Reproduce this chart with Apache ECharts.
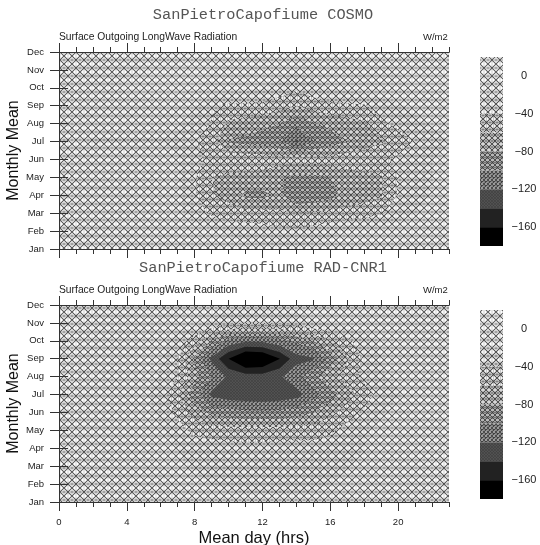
<!DOCTYPE html>
<html>
<head>
<meta charset="utf-8">
<style>html,body{margin:0;padding:0;background:#fff}#main{width:540px;height:545px}</style>
<script src="https://cdn.jsdelivr.net/npm/echarts@6/dist/echarts.min.js"></script>
</head>
<body>
<div id="main"></div>
<script>
var months = ["Jan","Feb","Mar","Apr","May","Jun","Jul","Aug","Sep","Oct","Nov","Dec"];
var levels = [20,0,-20,-40,-60,-80,-100,-120,-140,-160];
var barMin = -180;
var barLabels = [0,-40,-80,-120,-160];
var hourLabels = [0,4,8,12,16,20];

// one row per month, one value per hour (h0..h23)
var cosmoJan = [-6,-6,-6,-6,-6,-7,-7,-8,-8,-10,-12,-14,-16,-16,-16,-14,-12,-10,-8,-7,-6,-6,-6,-6];
var cosmoFeb = [-8,-8,-8,-8,-8,-8,-8,-9,-12,-16,-22,-26,-30,-35,-36,-32,-26,-18,-12,-10,-8,-8,-8,-8];
var cosmoMar = [-10,-10,-10,-10,-11,-11,-12,-14,-30,-44,-52,-54,-54,-56,-60,-58,-54,-52,-50,-42,-30,-20,-14,-12];
var cosmoApr = [-14,-14,-14,-14,-14,-14,-14,-16,-38,-58,-66,-84,-85,-76,-98,-96,-88,-72,-68,-62,-38,-26,-18,-14];
var cosmoMay = [-16,-16,-16,-15,-15,-15,-16,-18,-38,-60,-64,-66,-68,-78,-85,-85,-80,-70,-66,-62,-38,-26,-20,-16];
var cosmoJun = [-16,-16,-14,-10,2,-4,-12,-18,-36,-44,-46,-47,-48,-50,-52,-52,-50,-48,-46,-44,-36,-26,-20,-16];
var cosmoJul = [-16,-19,-21,-21,-21,-21,-21,-22,-38,-50,-82,-86,-90,-97,-124,-101,-90,-81,-70,-63,-52,-38,-28,-20];
var cosmoAug = [-15,-15,-15,-15,-15,-15,-15,-18,-28,-42,-64,-68,-74,-80,-95,-82,-74,-68,-64,-44,-34,-24,-18,-15];
var cosmoSep = [-10,-10,-10,-10,-10,-10,-10,-11,-16,-36,-44,-44,-46,-52,-60,-52,-46,-44,-42,-30,-22,-16,-12,-10];
var cosmoOct = [-8,-7,-6,-6,4,5,5,4,3,-6,-10,-14,-18,-26,-36,-26,-18,-14,-10,-8,-4,2,2,0];
var cosmoNov = [-6,-6,-6,-5,-2,2,4,6,8,2,-4,-8,-12,-14,-16,-14,-10,-8,-6,-2,1,2,2,0];
var cosmoDec = [-8,-8,-8,-8,-8,-8,-8,-8,-8,-9,-10,-11,-12,-12,-12,-12,-11,-10,-9,-8,-8,-8,-8,-8];
var cosmoGrid = [cosmoJan,cosmoFeb,cosmoMar,cosmoApr,cosmoMay,cosmoJun,cosmoJul,cosmoAug,cosmoSep,cosmoOct,cosmoNov,cosmoDec];

var radJan = [-4,-4,-4,-4,-4,-4,-4,-5,-6,-8,-10,-14,-14,-14,-14,-14,-10,-7,-5,-4,-4,-4,-4,-4];
var radFeb = [-5,-5,-5,-5,-5,-5,-6,-7,-10,-20,-24,-26,-26,-26,-26,-24,-20,-12,-7,-5,-5,-5,-5,-5];
var radMar = [-6,-6,-6,-6,-6,-6,-8,-14,-24,-28,-30,-31,-31,-31,-30,-29,-26,-21,-14,-8,-6,-6,-6,-6];
var radApr = [-6,-6,-6,-6,-6,-7,-10,-20,-26,-30,-32,-33,-33,-32,-32,-32,-30,-26,-20,-12,-7,-6,-6,-6];
var radMay = [-6,-6,-6,-6,-6,-8,-18,-32,-46,-50,-52,-52,-52,-52,-50,-50,-44,-32,-22,-14,-8,-6,-6,-6];
var radJun = [-6,-6,-6,-6,-6,-12,-25,-45,-68,-85,-92,-95,-96,-95,-90,-80,-66,-50,-36,-22,-12,-7,-6,-6];
var radJul = [-6,-6,-6,-6,-6,-15,-30,-58,-92,-125,-132,-134,-136,-133,-128,-108,-88,-70,-50,-32,-22,-10,-6,-6];
var radAug = [-6,-6,-6,-6,-6,-12,-22,-40,-72,-100,-124,-130,-131,-123,-105,-85,-68,-50,-34,-22,-12,-7,-6,-6];
var radSep = [-6,-6,-6,-6,-6,-8,-18,-40,-85,-125,-160,-190,-185,-160.5,-128,-122,-92,-62,-36,-20,-10,-6,-6,-6];
var radOct = [-6,-6,-6,-6,-6,-10,-14,-28,-50,-80,-106,-116,-115,-106,-96,-80,-62,-44,-28,-16,-8,-6,-6,-6];
var radNov = [-5,-5,-5,-5,-5,-5,-6,-8,-14,-24,-34,-40,-40,-36,-30,-22,-18,-10,-7,-5,-5,-5,-5,-5];
var radDec = [-4,-4,-4,-4,-4,-4,-5,-6,-8,-10,-12,-14,-14,-13,-12,-11,-9,-7,-5,-4,-4,-4,-4,-4];
var radGrid = [radJan,radFeb,radMar,radApr,radMay,radJun,radJul,radAug,radSep,radOct,radNov,radDec];

function hatch(step, ink, dot, bg) {
  var c = document.createElement("canvas");
  c.width = c.height = step;
  var g = c.getContext("2d");
  var q = step / 2;
  g.fillStyle = bg;
  g.fillRect(0, 0, step, step);
  // every other hole is grey
  g.fillStyle = dot;
  g.beginPath();
  g.moveTo(0, q / 2); g.lineTo(q / 2, q); g.lineTo(0, q + q / 2); g.closePath();
  g.moveTo(step, q / 2); g.lineTo(step - q / 2, q); g.lineTo(step, q + q / 2); g.closePath();
  g.fill();
  g.strokeStyle = ink;
  g.lineWidth = 1.05;
  g.beginPath();
  g.moveTo(-1, -1); g.lineTo(step + 1, step + 1);
  g.moveTo(step + 1, -1); g.lineTo(-1, step + 1);
  g.stroke();
  // thin square mesh through the crossings
  g.strokeStyle = "rgba(60,60,60,0.25)";
  g.lineWidth = 1;
  g.beginPath();
  g.moveTo(0, q); g.lineTo(step, q);
  g.moveTo(q, 0); g.lineTo(q, step);
  g.stroke();
  return c;
}

// fill of the band just below each level
var fills = [
  { image: hatch(8, "#5c5c5c", "#bbb", "#fff"), repeat: "repeat" },
  { image: hatch(8, "#555", "#b0b0b0", "#fff"), repeat: "repeat" },
  { image: hatch(8, "#4a4a4a", "#a0a0a0", "#fafafa"), repeat: "repeat" },
  { image: hatch(7, "#484848", "#999", "#f4f4f4"), repeat: "repeat" },
  { image: hatch(6, "#484848", "#8c8c8c", "#eee"), repeat: "repeat" },
  { image: hatch(5, "#444", "#808080", "#e0e0e0"), repeat: "repeat" },
  { image: hatch(4, "#444", "#777", "#ccc"), repeat: "repeat" },
  { image: hatch(3, "#444", "#555", "#6e6e6e"), repeat: "repeat" },
  "#222",
  "#000"
];

// part of one grid cell where the value is below the level
function clipCell(pts, level) {
  var out = [];
  for (var i = 0; i < pts.length; i++) {
    var a = pts[i], b = pts[(i + 1) % pts.length];
    var ina = a[2] < level, inb = b[2] < level;
    if (ina) out.push(a);
    if (ina !== inb) {
      var t = (level - a[2]) / (b[2] - a[2]);
      out.push([a[0] + (b[0] - a[0]) * t, a[1] + (b[1] - a[1]) * t, level]);
    }
  }
  return out;
}

function bandRenderer(grid) {
  return function (params, api) {
    var level = levels[api.value(0)];
    var path = "";
    var x0 = Infinity, y0 = Infinity, x1 = -Infinity, y1 = -Infinity;
    for (var m = 0; m < grid.length - 1; m++) {
      for (var h = 0; h < grid[m].length - 1; h++) {
        var poly = clipCell([
          [h, m, grid[m][h]],
          [h + 1, m, grid[m][h + 1]],
          [h + 1, m + 1, grid[m + 1][h + 1]],
          [h, m + 1, grid[m + 1][h]]
        ], level);
        for (var i = 0; i < poly.length; i++) {
          var p = api.coord([poly[i][0], poly[i][1]]);
          path += (i ? "L" : "M") + p[0].toFixed(2) + " " + p[1].toFixed(2);
          x0 = Math.min(x0, p[0]); x1 = Math.max(x1, p[0]);
          y0 = Math.min(y0, p[1]); y1 = Math.max(y1, p[1]);
        }
        if (poly.length) path += "Z";
      }
    }
    if (!path) return null;
    return {
      type: "path",
      shape: { pathData: path, x: x0, y: y0, width: x1 - x0, height: y1 - y0 },
      style: { fill: fills[api.value(0)] }
    };
  };
}

function renderBarBlock(params, api) {
  var i = api.value(0);
  var next = i + 1 < levels.length ? levels[i + 1] : barMin;
  var a = api.coord([0, levels[i]]);
  var b = api.coord([1, next]);
  return {
    type: "rect",
    shape: { x: a[0], y: a[1], width: b[0] - a[0], height: b[1] - a[1] },
    style: { fill: fills[i] }
  };
}

var lineStyle = { color: "#333", width: 1 };
var tickFont = { fontFamily: "Liberation Sans", fontSize: 9.5, color: "#222" };

function xAxes(gridIndex, withLabels) {
  function one(position, major, labels) {
    var ax = {
      type: "value", gridIndex: gridIndex, position: position, min: 0, max: 23, z: 5,
      splitLine: { show: false },
      axisLine: { lineStyle: lineStyle },
      axisLabel: { show: false },
      axisTick: { show: true, lineStyle: lineStyle, length: major ? 9 : 5 }
    };
    if (major) {
      ax.axisTick.customValues = hourLabels;
      if (labels) {
        ax.axisLabel = Object.assign({ show: true, customValues: hourLabels, margin: 15 }, tickFont);
        ax.name = "Mean day (hrs)";
        ax.nameLocation = "middle";
        ax.nameGap = 28;
        ax.nameMoveOverlap = false;
        ax.nameTextStyle = { fontFamily: "Liberation Sans", fontSize: 16.5, color: "#111" };
      }
    } else {
      ax.interval = 1;
    }
    return ax;
  }
  return [one("bottom", true, withLabels), one("bottom", false), one("top", true), one("top", false)];
}

function yAxes(gridIndex) {
  function one(position, labels) {
    return {
      type: "value", gridIndex: gridIndex, position: position, min: 0, max: 11, interval: 1, z: 5,
      splitLine: { show: false },
      axisLine: { lineStyle: lineStyle },
      axisTick: { lineStyle: lineStyle, length: 9 },
      axisLabel: labels ? Object.assign({ margin: 15, formatter: function (v) { return months[v]; } }, tickFont) : { show: false },
      name: labels ? "Monthly Mean" : "",
      nameLocation: "middle",
      nameGap: 37,
      nameMoveOverlap: false,
      nameTextStyle: { fontFamily: "Liberation Sans", fontSize: 16, color: "#111" }
    };
  }
  return [one("left", true), one("right", false)];
}

function barAxes(gridIndex) {
  return {
    x: {
      type: "value", gridIndex: gridIndex, min: 0, max: 1, show: false
    },
    y: {
      type: "value", gridIndex: gridIndex, min: barMin, max: levels[0], position: "right",
      splitLine: { show: false },
      axisLine: { show: false },
      axisTick: { show: false },
      axisLabel: {
        customValues: barLabels, margin: 21, align: "center",
        fontFamily: "Liberation Sans", fontSize: 11, color: "#222",
        formatter: function (v) { return String(v).replace("-", "\u2212"); }
      }
    }
  };
}

function titleBlock(main, mainTop, subTop) {
  return [
    { text: main, left: 263, top: mainTop, padding: 0, textAlign: "center",
      textStyle: { fontFamily: "Liberation Mono", fontSize: 15.3, fontWeight: "normal", color: "#555" } },
    { text: "Surface Outgoing LongWave Radiation", left: 59, top: subTop, padding: 0,
      textStyle: { fontFamily: "Liberation Sans", fontSize: 10.3, fontWeight: "normal", color: "#222" } },
    { text: "W/m2", left: 423, top: subTop, padding: 0,
      textStyle: { fontFamily: "Liberation Sans", fontSize: 9.5, fontWeight: "normal", color: "#222" } }
  ];
}

var levelIndex = levels.map(function (l, i) { return [i]; });
var chart = echarts.init(document.getElementById("main"), null, { renderer: "canvas" });

var bar1 = barAxes(2), bar2 = barAxes(3);
var option = {
  animation: false,
  title: titleBlock("SanPietroCapofiume COSMO", 7, 32).concat(titleBlock("SanPietroCapofiume RAD-CNR1", 260, 285)),
  grid: [
    { left: 59, top: 52, width: 390, height: 197, outerBoundsMode: "none" },
    { left: 59, top: 305, width: 390, height: 197, outerBoundsMode: "none" },
    { left: 480, top: 57, width: 23, height: 189, outerBoundsMode: "none" },
    { left: 480, top: 310, width: 23, height: 189, outerBoundsMode: "none" }
  ],
  xAxis: xAxes(0, false).concat(xAxes(1, true), [bar1.x, bar2.x]),
  yAxis: yAxes(0).concat(yAxes(1), [bar1.y, bar2.y]),
  series: [
    { type: "custom", xAxisIndex: 0, yAxisIndex: 0, data: levelIndex, silent: true, renderItem: bandRenderer(cosmoGrid) },
    { type: "custom", xAxisIndex: 4, yAxisIndex: 2, data: levelIndex, silent: true, renderItem: bandRenderer(radGrid) },
    { type: "custom", xAxisIndex: 8, yAxisIndex: 4, data: levelIndex, silent: true, renderItem: renderBarBlock },
    { type: "custom", xAxisIndex: 9, yAxisIndex: 5, data: levelIndex, silent: true, renderItem: renderBarBlock }
  ]
};
chart.setOption(option);
</script>
</body>
</html>
